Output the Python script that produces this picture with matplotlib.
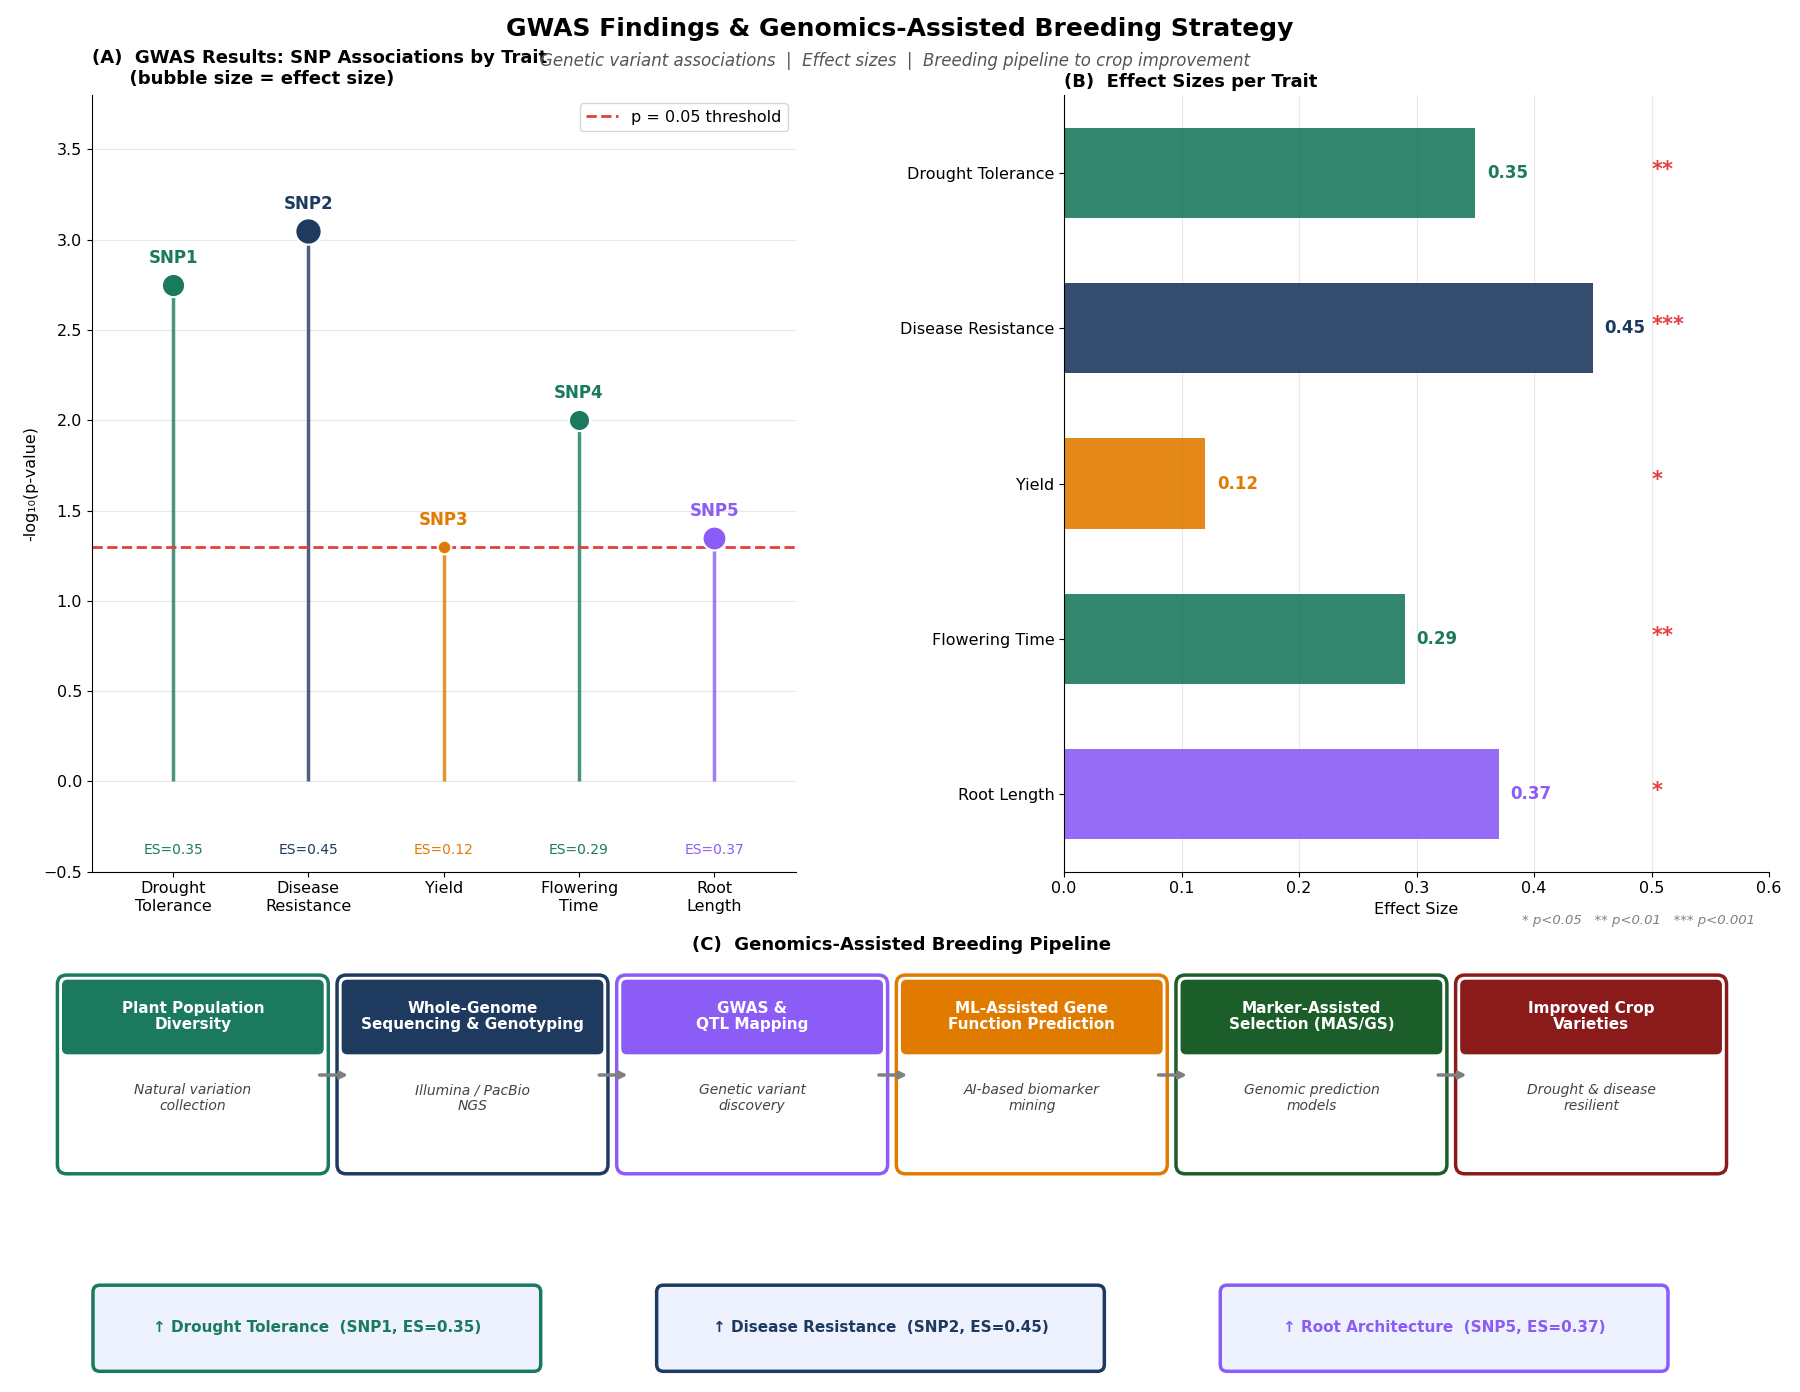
import numpy as np
import matplotlib.pyplot as plt
from matplotlib.patches import FancyBboxPatch

traits = ['Drought\nTolerance', 'Disease\nResistance', 'Yield', 'Flowering\nTime', 'Root\nLength']
traits_b = ['Drought Tolerance', 'Disease Resistance', 'Yield', 'Flowering Time', 'Root Length']
snps = ['SNP1', 'SNP2', 'SNP3', 'SNP4', 'SNP5']
logp = [2.75, 3.05, 1.30, 2.00, 1.35]
effect = [0.35, 0.45, 0.12, 0.29, 0.37]
stars = ['**', '***', '*', '**', '*']
colors = ['#1b7a5e', '#1e3a5f', '#e07b00', '#1b7a5e', '#8b5cf6']

steps = ['Plant Population\nDiversity', 'Whole-Genome\nSequencing & Genotyping', 'GWAS &\nQTL Mapping',
         'ML-Assisted Gene\nFunction Prediction', 'Marker-Assisted\nSelection (MAS/GS)', 'Improved Crop\nVarieties']
step_desc = ['Natural variation\ncollection', 'Illumina / PacBio\nNGS', 'Genetic variant\ndiscovery',
             'AI-based biomarker\nmining', 'Genomic prediction\nmodels', 'Drought & disease\nresilient']
step_colors = ['#1b7a5e', '#1e3a5f', '#8b5cf6', '#e07b00', '#1b5e2a', '#8b1a1a']
outcomes = ['↑ Drought Tolerance  (SNP1, ES=0.35)', '↑ Disease Resistance  (SNP2, ES=0.45)',
            '↑ Root Architecture  (SNP5, ES=0.37)']
outcome_colors = ['#1b7a5e', '#1e3a5f', '#8b5cf6']

fig = plt.figure(figsize=(18, 13.92), dpi=100)
W, H = 1568, 1212

def fa(x0, y0, x1, y1):
    return [x0 / W, 1 - y1 / H, (x1 - x0) / W, (y1 - y0) / H]

# (A)
ax = fig.add_axes(fa(80, 83, 693, 759))
x = np.arange(len(traits))
for i in x:
    ax.vlines(i, 0, logp[i], color=colors[i], lw=2.5, alpha=0.8)
    ax.scatter(i, logp[i], s=effect[i] * 800, color=colors[i], edgecolor='white', lw=1.5, zorder=3)
    ax.text(i, logp[i] + 0.1, snps[i], ha='center', va='bottom', color=colors[i],
            fontsize=12, fontweight='bold')
    ax.text(i, -0.38, f'ES={effect[i]}', ha='center', va='center', color=colors[i], fontsize=10)
ax.axhline(1.3, color='#e53e3e', ls='--', lw=2, label='p = 0.05 threshold')
ax.set_xlim(-0.6, 4.6)
ax.set_ylim(-0.5, 3.8)
ax.set_xticks(x)
ax.set_xticklabels(traits, fontsize=11.5)
ax.tick_params(labelsize=11.5)
ax.set_ylabel('-log₁₀(p-value)', fontsize=11.5)
ax.grid(axis='y', color='#e8e8e8')
ax.set_axisbelow(True)
ax.legend(loc='upper right', fontsize=11.5)
for s in ['top', 'right']:
    ax.spines[s].set_visible(False)
ax.set_title('(A)  GWAS Results: SNP Associations by Trait\n      (bubble size = effect size)',
             loc='left', fontsize=13, fontweight='bold', x=0.0, pad=8)

# (B)
bx = fig.add_axes(fa(927, 83, 1541, 759))
y = np.arange(len(traits_b))[::-1]
bx.barh(y, effect, height=0.58, color=colors, alpha=0.9)
for yi, v, c, st in zip(y, effect, colors, stars):
    bx.text(v + 0.01, yi, f'{v:.2f}', va='center', color=c, fontsize=12, fontweight='bold')
    bx.text(0.5, yi + 0.02, st, va='center', color='#e53e3e', fontsize=15, fontweight='bold')
bx.set_yticks(y)
bx.set_yticklabels(traits_b, fontsize=11.5)
bx.set_xlim(0, 0.6)
bx.set_ylim(-0.5, 4.5)
bx.tick_params(labelsize=11.5)
bx.set_xlabel('Effect Size', fontsize=11.5)
bx.grid(axis='x', color='#e8e8e8')
bx.set_axisbelow(True)
for s in ['top', 'right']:
    bx.spines[s].set_visible(False)
bx.set_title('(B)  Effect Sizes per Trait', loc='left', fontsize=13, fontweight='bold')
bx.text(0.98, -0.055, '* p<0.05   ** p<0.01   *** p<0.001', transform=bx.transAxes, ha='right',
        va='top', fontsize=9.5, color='gray', style='italic')

# (C)
cx = fig.add_axes([0, 0, 1, 1])
cx.set_xlim(0, W)
cx.set_ylim(H, 0)
cx.axis('off')
cx.text(785, 823, '(C)  Genomics-Assisted Breeding Pipeline', ha='center', va='center',
        fontsize=13, fontweight='bold')
bw, gap = 236, 7.6
for i, (t, d, c) in enumerate(zip(steps, step_desc, step_colors)):
    x0 = 50 + i * (bw + gap)
    cx.add_patch(FancyBboxPatch((x0, 849), bw, 173, boxstyle='round,pad=0,rounding_size=8',
                                fc='white', ec=c, lw=2.5))
    cx.add_patch(FancyBboxPatch((x0 + 4, 853), bw - 8, 65, boxstyle='round,pad=0,rounding_size=5',
                                fc=c, ec='none'))
    cx.text(x0 + bw / 2, 885, t, ha='center', va='center', color='white', fontsize=11,
            fontweight='bold', linespacing=1.1)
    cx.text(x0 + bw / 2, 956, d, ha='center', va='center', color='#444444', fontsize=10,
            style='italic', linespacing=1.1)
    if i < len(steps) - 1:
        cx.annotate('', xy=(x0 + bw + gap + 12, 936), xytext=(x0 + bw - 10, 936),
                    arrowprops=dict(arrowstyle='->', color='gray', lw=2.5))
for i, (t, c) in enumerate(zip(outcomes, outcome_colors)):
    x0 = 81 + i * 491
    cx.add_patch(FancyBboxPatch((x0, 1119), 390, 75, boxstyle='round,pad=0,rounding_size=6',
                                fc='#eef2ff', ec=c, lw=2.5))
    cx.text(x0 + 195, 1156, t, ha='center', va='center', color=c, fontsize=11, fontweight='bold')

fig.text(0.5, 0.979, 'GWAS Findings & Genomics-Assisted Breeding Strategy', ha='center', va='center',
         fontsize=18, fontweight='bold')
fig.text(0.497, 0.956, 'Genetic variant associations  |  Effect sizes  |  Breeding pipeline to crop improvement',
         ha='center', va='center', fontsize=12, color='#555555', style='italic')

fig.savefig('out.png', dpi=100)
